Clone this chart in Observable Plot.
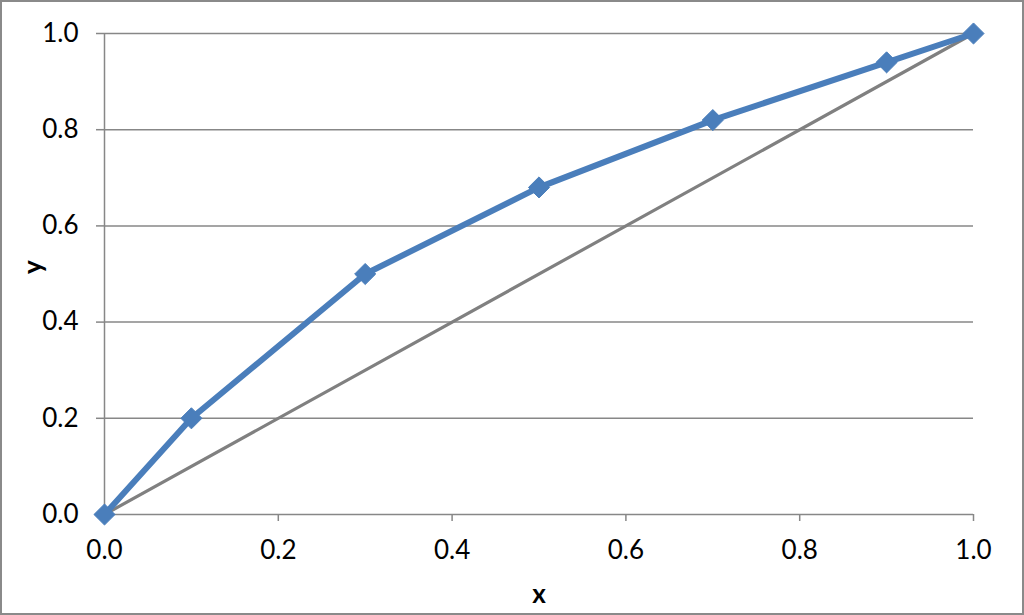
<!DOCTYPE html>
<html>
<head>
<meta charset="utf-8">
<script src="https://cdn.jsdelivr.net/npm/d3@7"></script>
<script src="https://cdn.jsdelivr.net/npm/@observablehq/plot@0.6"></script>
<style>
  html, body { margin: 0; padding: 0; background: #fff; }
  #chart svg { display: block; outline: 2px solid #8a8a8a; outline-offset: -2px; }
</style>
</head>
<body>
<div id="chart"></div>
<script>
const xValues = [0, 0.1, 0.3, 0.5, 0.7, 0.9, 1.0];
const yValues = [0, 0.2, 0.5, 0.68, 0.82, 0.94, 1.0];
const diagX = [0, 1];
const diagY = [0, 1];
const tickValues = [0, 0.2, 0.4, 0.6, 0.8, 1.0];
const xTitle = "x";
const yTitle = "y";

const curve = xValues.map((x, i) => ({x, y: yValues[i]}));
const diag = diagX.map((x, i) => ({x, y: diagY[i]}));

const font = "Lato, 'Open Sans', sans-serif";
const grid = "#878787";

const chart = Plot.plot({
  width: 1024,
  height: 615,
  marginLeft: 104,
  marginRight: 51,
  marginTop: 33,
  marginBottom: 101,
  style: {fontFamily: font, fontSize: "26px", color: "#000", background: "#fff"},
  x: {domain: [0, 1]},
  y: {domain: [0, 1]},
  marks: [
    Plot.gridY(tickValues.filter(d => d > 0), {stroke: grid, strokeOpacity: 1, strokeWidth: 1.5}),
    Plot.axisY(tickValues, {tickSize: 8, tickPadding: 18, tickFormat: d => d.toFixed(1), stroke: grid, strokeWidth: 1.5, strokeOpacity: 1, fontSize: 26, label: null}),
    Plot.axisX(tickValues, {tickSize: 7, tickPadding: 19, tickFormat: d => d.toFixed(1), stroke: grid, strokeWidth: 1.5, strokeOpacity: 1, fontSize: 26, label: null}),
    Plot.ruleX([0], {stroke: grid, strokeWidth: 1.5}),
    Plot.ruleY([0], {stroke: grid, strokeWidth: 1.5}),
    Plot.line(diag, {x: "x", y: "y", stroke: "#808080", strokeWidth: 3.2}),
    Plot.line(curve, {x: "x", y: "y", stroke: "#4A7EBB", strokeWidth: 6, strokeLinejoin: "round"}),
    Plot.dot(curve, {x: "x", y: "y", symbol: "diamond2", r: 9.5, fill: "#4A7EBB", stroke: "#4A7EBB", strokeWidth: 1}),
    Plot.text([xTitle], {frameAnchor: "bottom", dy: 80, text: d => d, fontSize: 26, fontWeight: "bold", lineAnchor: "middle"}),
    Plot.text([yTitle], {frameAnchor: "left", dx: -71, text: d => d, fontSize: 26, fontWeight: "bold", rotate: -90, lineAnchor: "middle"})
  ]
});
document.getElementById("chart").appendChild(chart);
</script>
</body>
</html>
